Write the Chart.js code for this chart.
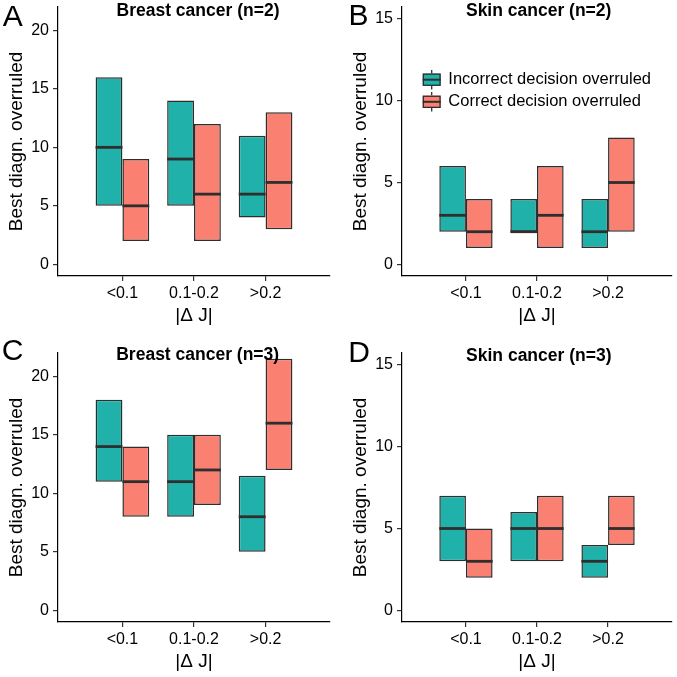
<!DOCTYPE html>
<html>
<head>
<meta charset="utf-8">
<script src="https://cdn.jsdelivr.net/npm/chart.js@4.4.1/dist/chart.umd.min.js"></script>
<style>
html,body{margin:0;padding:0;background:#fff;overflow:hidden;width:677px;height:677px;}
canvas.panel{position:absolute;}
.ttl{position:absolute;width:240px;text-align:center;font-family:'Liberation Sans',Arial,sans-serif;font-weight:bold;font-size:17.5px;line-height:17px;color:#000;white-space:nowrap;}
.lt{position:absolute;font-family:'Liberation Sans',Arial,sans-serif;font-size:30px;line-height:30px;color:#000;}
</style>
</head>
<body>
<canvas id="cA" class="panel" width="338" height="338" style="left:0px;top:0px"></canvas>
<canvas id="cB" class="panel" width="338" height="338" style="left:344px;top:0px"></canvas>
<canvas id="cC" class="panel" width="338" height="338" style="left:0px;top:346px"></canvas>
<canvas id="cD" class="panel" width="338" height="338" style="left:344px;top:346px"></canvas>

<div class="ttl" style="left:78px;top:1.7px">Breast cancer (n=2)</div>
<div class="ttl" style="left:418.7px;top:1.7px">Skin cancer (n=2)</div>
<div class="ttl" style="left:77.7px;top:346.2px">Breast cancer (n=3)</div>
<div class="ttl" style="left:418.8px;top:347px">Skin cancer (n=3)</div>

<div class="lt" style="left:2.7px;top:0.6px">A</div>
<div class="lt" style="left:348.5px;top:-0.4px">B</div>
<div class="lt" style="left:1.8px;top:335.3px">C</div>
<div class="lt" style="left:348.3px;top:336.6px">D</div>

<script>
// ---- data ----
const categories = ['<0.1', '0.1-0.2', '>0.2'];
const xTickValues = [1, 2, 3];
const seriesNames = ['Incorrect decision overruled', 'Correct decision overruled'];
// each entry: [lower hinge, median, upper hinge] per category
const breastN2Incorrect = [[5, 10, 16], [5, 9, 14], [4, 6, 11]];
const breastN2Correct   = [[2, 5, 9], [2, 6, 12], [3, 7, 13]];
const skinN2Incorrect   = [[2, 3, 6], [2, 2, 4], [1, 2, 4]];
const skinN2Correct     = [[1, 2, 4], [1, 3, 6], [2, 5, 7.75]];
const breastN3Incorrect = [[11, 14, 18], [8, 11, 15], [5, 8, 11.5]];
const breastN3Correct   = [[8, 11, 14], [9, 12, 15], [12, 16, 21.5]];
const skinN3Incorrect   = [[3, 5, 7], [3, 5, 6], [2, 3, 4]];
const skinN3Correct     = [[2, 3, 5], [3, 5, 7], [4, 5, 7]];
const breastYTicks = [0, 5, 10, 15, 20];
const skinYTicks = [0, 5, 10, 15];
const yTitle = 'Best diagn. overruled';
const xTitle = '|\u0394 J|';

const TEAL = '#20B2AA';
const SALMON = '#FA8072';
const EDGE = '#2e2e2e';

Chart.defaults.font.family = "'Liberation Sans', Arial, Helvetica, sans-serif";
Chart.defaults.color = '#000';

const medianPlugin = {
  id: 'medians',
  afterDatasetsDraw(chart) {
    const ctx = chart.ctx;
    const yScale = chart.scales.y;
    chart.data.datasets.forEach((ds, di) => {
      const meta = chart.getDatasetMeta(di);
      meta.data.forEach((bar, i) => {
        const p = bar.getProps(['x', 'width'], true);
        const py = yScale.getPixelForValue(ds.medians[i]);
        ctx.save();
        ctx.strokeStyle = EDGE;
        ctx.lineWidth = 2.8;
        ctx.beginPath();
        ctx.moveTo(p.x - p.width / 2, py);
        ctx.lineTo(p.x + p.width / 2, py);
        ctx.stroke();
        ctx.restore();
      });
    });
  }
};

const boxLegendPlugin = {
  id: 'boxLegend',
  afterDraw(chart, args, opts) {
    if (!opts || !opts.show) return;
    const ctx = chart.ctx;
    const ca = chart.chartArea;
    const x0 = ca.left + 20.7;
    const centers = [ca.top + 72.7, ca.top + 94.8];
    const w = 18, hh = 6.2, wh = 9.8;
    chart.data.datasets.forEach((ds, i) => {
      const cy = centers[i];
      ctx.save();
      ctx.strokeStyle = EDGE;
      ctx.lineWidth = 1.3;
      ctx.beginPath();
      ctx.moveTo(x0 + w / 2, cy - wh); ctx.lineTo(x0 + w / 2, cy - hh);
      ctx.moveTo(x0 + w / 2, cy + hh); ctx.lineTo(x0 + w / 2, cy + wh);
      ctx.stroke();
      ctx.fillStyle = ds.backgroundColor;
      ctx.fillRect(x0, cy - hh, w, 2 * hh);
      ctx.strokeRect(x0 + 0.65, cy - hh + 0.65, w - 1.3, 2 * hh - 1.3);
      ctx.lineWidth = 2;
      ctx.beginPath();
      ctx.moveTo(x0, cy); ctx.lineTo(x0 + w, cy);
      ctx.stroke();
      ctx.fillStyle = '#000';
      ctx.font = "16.5px 'Liberation Sans', Arial, sans-serif";
      ctx.textBaseline = 'middle';
      ctx.textAlign = 'left';
      ctx.fillText(ds.label, x0 + 25.6, cy);
      ctx.restore();
    });
  }
};

function makeDataset(label, rows, color) {
  return {
    label: label,
    data: rows.map((r, i) => ({ x: xTickValues[i], y: [r[0], r[2]] })),
    medians: rows.map(r => r[1]),
    backgroundColor: color,
    borderColor: EDGE,
    borderWidth: 1.5,
    borderSkipped: false,
    categoryPercentage: 0.75,
    barPercentage: 1.0
  };
}

function makePanel(id, incorrect, correct, yTicks, yMin, yMax, padRight, showLegend) {
  new Chart(document.getElementById(id), {
    type: 'bar',
    data: {
      datasets: [
        makeDataset(seriesNames[0], incorrect, TEAL),
        makeDataset(seriesNames[1], correct, SALMON)
      ]
    },
    options: {
      responsive: false,
      devicePixelRatio: 1,
      animation: false,
      layout: { padding: { left: 0, top: 7, right: padRight, bottom: 0 } },
      plugins: {
        legend: { display: false },
        tooltip: { enabled: false },
        boxLegend: { show: showLegend }
      },
      scales: {
        x: {
          type: 'linear',
          offset: false,
          min: 0.1,
          max: 3.9,
          afterBuildTicks: s => { s.ticks = xTickValues.map(v => ({ value: v })); },
          afterFit: s => { s.height = 62; s.paddingLeft = 0; s.paddingRight = 0; },
          ticks: {
            callback: v => categories[Math.round(v) - 1],
            font: { size: 16 },
            color: '#000',
            padding: 3,
            maxRotation: 0,
            autoSkip: false
          },
          grid: { offset: false, drawOnChartArea: false, drawTicks: true, tickLength: 5, color: '#333', lineWidth: 1.2 },
          border: { display: true, color: '#000', width: 1.2 },
          title: { display: true, text: xTitle, font: { size: 19 }, color: '#000', padding: { top: 0, bottom: 11 } }
        },
        y: {
          type: 'linear',
          min: yMin,
          max: yMax,
          afterBuildTicks: s => { s.ticks = yTicks.map(v => ({ value: v })); },
          afterFit: s => { s.width = 58; s.paddingTop = 0; s.paddingBottom = 0; },
          ticks: { font: { size: 16 }, color: '#000', padding: 4 },
          grid: { drawOnChartArea: false, drawTicks: true, tickLength: 5, color: '#333', lineWidth: 1.2 },
          border: { display: true, color: '#000', width: 1.2 },
          title: { display: true, text: yTitle, font: { size: 19 }, color: '#000', padding: { top: 5, bottom: 0 } }
        }
      }
    },
    plugins: [medianPlugin, boxLegendPlugin]
  });
}

makePanel('cA', breastN2Incorrect, breastN2Correct, breastYTicks, -1, 22, 8, false);
makePanel('cB', skinN2Incorrect, skinN2Correct, skinYTicks, -0.7, 15.7, 10, true);
makePanel('cC', breastN3Incorrect, breastN3Correct, breastYTicks, -1, 22, 8, false);
makePanel('cD', skinN3Incorrect, skinN3Correct, skinYTicks, -0.7, 15.7, 10, false);
</script>
</body>
</html>
